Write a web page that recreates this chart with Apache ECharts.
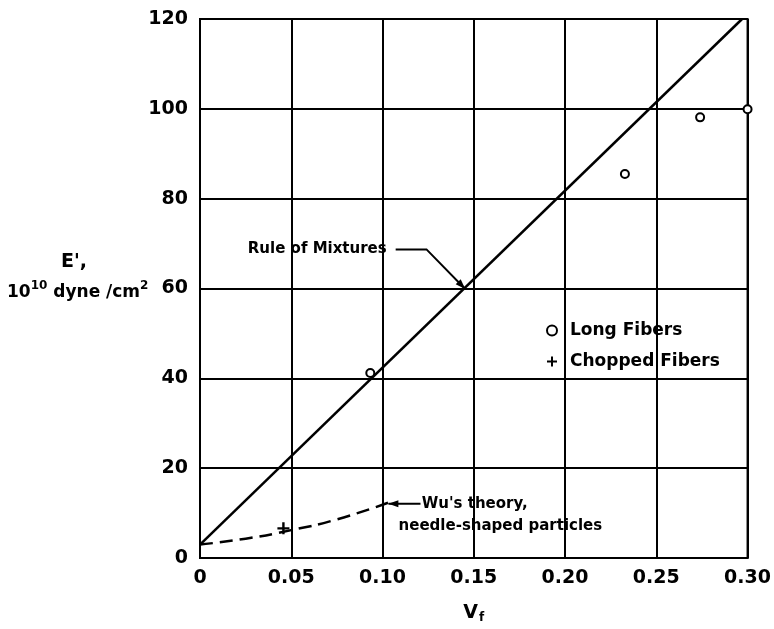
<!DOCTYPE html>
<html>
<head>
<meta charset="utf-8">
<script src="https://cdn.jsdelivr.net/npm/echarts@6/dist/echarts.min.js"></script>
<style>html,body{margin:0;padding:0;background:#fff;overflow:hidden}#c{width:774px;height:629px}</style>
</head>
<body>
<div id="c"></div>
<script>
// ---- data ----
const xTickLabels = ['0', '0.05', '0.10', '0.15', '0.20', '0.25', '0.30'];
const yTickLabels = ['0', '20', '40', '60', '80', '100', '120'];
const longFibers = [[0.0933, 41.2], [0.2328, 85.5], [0.274, 98.1], [0.300, 99.9]];
const choppedFibers = [[0.0457, 6.6]];
const ruleOfMixtures = [[0, 3], [0.297, 120]];
const wuTheory = [[0, 3], [0.025, 4.3], [0.05, 6.2], [0.075, 8.6], [0.103, 12.3]];
// annotation anchors (data coords)
const ruleLabelAt = [0.1023, 68.7];
const ruleArrowPath = [[0.1072, 68.7], [0.1241, 68.7], [0.1453, 59.9]];
const wuArrowPath = [[0.1208, 12.1], [0.1032, 12.1]];
const wuLabel1At = [0.1215, 12.1];
const wuLabel2At = [0.1088, 7.0];

const FONT = 'DejaVu Sans';
const chart = echarts.init(document.getElementById('c'));
const plus = 'path://M4,0H6V4H10V6H6V10H4V6H0V4H4Z';

chart.setOption({
  animation: false,
  backgroundColor: '#fff',
  grid: { left: 200, right: 20, top: 19, bottom: 64, show: true, borderColor: '#000', borderWidth: 2 },
  xAxis: {
    type: 'value', min: 0, max: 0.3, interval: 0.05,
    axisLine: { show: true, lineStyle: { color: '#000', width: 2 } },
    axisTick: { show: false },
    splitLine: { show: true, lineStyle: { color: '#000', width: 2 } },
    axisLabel: {
      color: '#000', fontFamily: FONT, fontWeight: 'bold', fontSize: 19, margin: 11,
      formatter: v => xTickLabels[Math.round(v / 0.05)]
    },
    name: '{v|V}{f|f}', nameLocation: 'middle', nameGap: 44,
    nameTextStyle: { rich: {
      v: { fontFamily: FONT, fontWeight: 'bold', fontSize: 19, color: '#000' },
      f: { fontFamily: FONT, fontWeight: 'bold', fontSize: 12, color: '#000', verticalAlign: 'bottom', padding: [10, 0, 0, 1] }
    } }
  },
  yAxis: {
    type: 'value', min: 0, max: 120, interval: 20,
    axisLine: { show: true, lineStyle: { color: '#000', width: 2 } },
    axisTick: { show: false },
    splitLine: { show: true, lineStyle: { color: '#000', width: 2 } },
    axisLabel: {
      color: '#000', fontFamily: FONT, fontWeight: 'bold', fontSize: 19, margin: 12,
      formatter: v => yTickLabels[Math.round(v / 20)]
    }
  },
  legend: {
    left: 541, top: 317, orient: 'vertical', itemGap: 14,
    itemWidth: 10, itemHeight: 10,
    data: ['Long Fibers', 'Chopped Fibers'],
    itemStyle: { opacity: 1 },
    textStyle: { color: '#000', fontFamily: FONT, fontWeight: 'bold', fontSize: 17, padding: [0, 0, 0, 8] }
  },
  series: [
    { name: 'Rule of Mixtures', type: 'line', data: ruleOfMixtures, symbol: 'none',
      lineStyle: { color: '#000', width: 2.5 }, z: 3 },
    { name: "Wu's theory", type: 'line', data: wuTheory, symbol: 'none', smooth: true,
      lineStyle: { color: '#000', width: 2.5, type: [13, 7] }, z: 3 },
    { name: 'Long Fibers', type: 'scatter', data: longFibers, symbol: 'emptyCircle', symbolSize: 8,
      itemStyle: { color: '#000', borderColor: '#000', borderWidth: 2.2, opacity: 1 }, z: 4 },
    { name: 'Chopped Fibers', type: 'scatter', data: choppedFibers, symbol: plus, symbolSize: 12,
      itemStyle: { color: '#000', opacity: 1 }, z: 4 }
  ]
});

function px(p) { return chart.convertToPixel({ gridIndex: 0 }, p); }
function arrowHead(tip, from, len, half) {
  const dx = tip[0] - from[0], dy = tip[1] - from[1];
  const d = Math.hypot(dx, dy), ux = dx / d, uy = dy / d;
  const bx = tip[0] - ux * len, by = tip[1] - uy * len;
  return [tip, [bx - uy * half, by + ux * half], [bx + uy * half, by - ux * half]];
}
const rp = ruleArrowPath.map(px);
const wp = wuArrowPath.map(px);
const annFont = { fontFamily: FONT, fontWeight: 'bold', fontSize: 15, fill: '#000' };
const rl = px(ruleLabelAt), w1 = px(wuLabel1At), w2 = px(wuLabel2At);

chart.setOption({
  graphic: [
    { type: 'text', left: 61, top: 253, style: { text: "E',", ...annFont, fontSize: 19 } },
    { type: 'text', left: 7, top: 280, style: {
        text: '{n|10}{s|10}{n| dyne /cm}{s|2}',
        rich: {
          n: { fontFamily: FONT, fontWeight: 'bold', fontSize: 17, fill: '#000', verticalAlign: 'bottom' },
          s: { fontFamily: FONT, fontWeight: 'bold', fontSize: 12, fill: '#000', verticalAlign: 'top', padding: [0, 0, 9, 0] }
        } } },
    { type: 'text', x: rl[0], y: rl[1], style: { text: 'Rule of Mixtures', ...annFont, align: 'right', verticalAlign: 'middle' } },
    { type: 'polyline', shape: { points: rp }, style: { stroke: '#000', lineWidth: 2, fill: null } },
    { type: 'polygon', shape: { points: arrowHead(rp[2], rp[1], 10, 3.5) }, style: { fill: '#000' } },
    { type: 'polyline', shape: { points: wp }, style: { stroke: '#000', lineWidth: 2, fill: null } },
    { type: 'polygon', shape: { points: arrowHead(wp[1], wp[0], 10, 3.5) }, style: { fill: '#000' } },
    { type: 'text', x: w1[0], y: w1[1], style: { text: "Wu's theory,", ...annFont, align: 'left', verticalAlign: 'middle' } },
    { type: 'text', x: w2[0], y: w2[1], style: { text: 'needle-shaped particles', ...annFont, align: 'left', verticalAlign: 'middle' } }
  ]
});
</script>
</body>
</html>
